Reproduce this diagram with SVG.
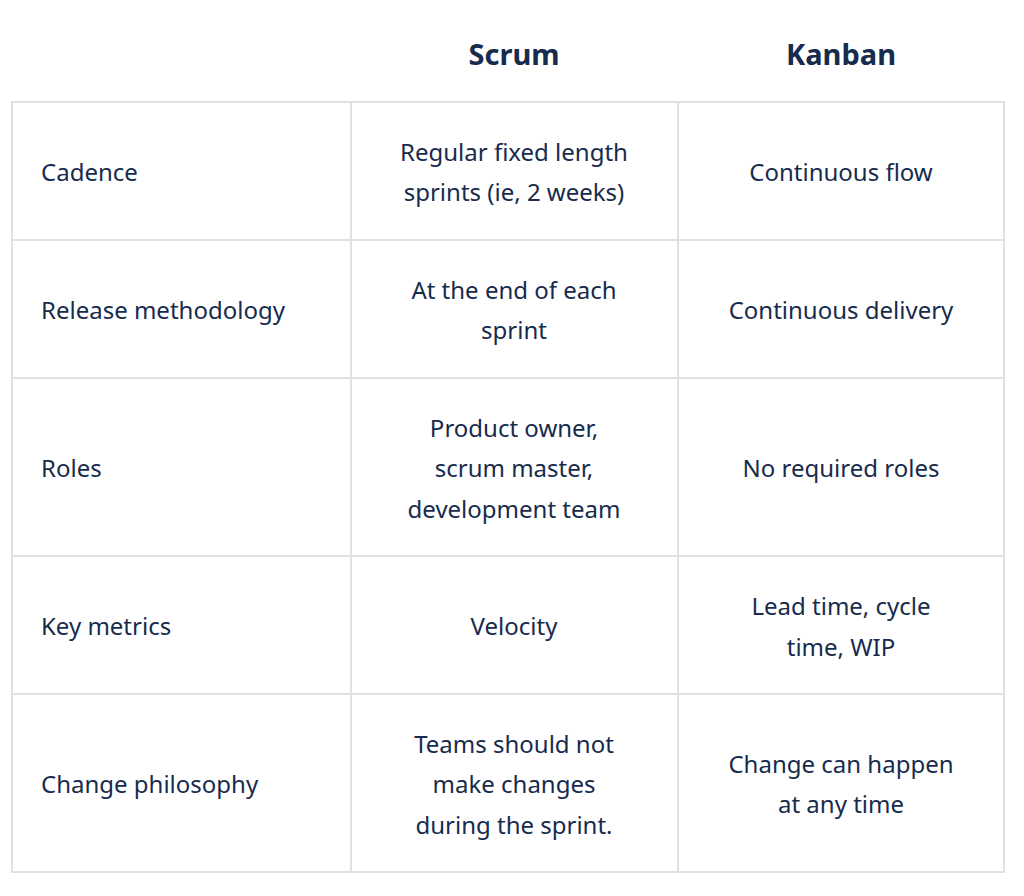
<svg xmlns="http://www.w3.org/2000/svg" width="1024" height="896" viewBox="0 0 1024 896">
<style>
text{font-family:"Noto Sans","Open Sans",sans-serif;fill:#172B4D;font-size:24px}
.h{font-size:29px;font-weight:bold;text-anchor:middle}
.c{text-anchor:middle}
.g{stroke:#DFE1E6;stroke-width:2;fill:none}
</style>
<rect width="1024" height="896" fill="#fff"/>
<g id="grid" class="g">
<rect x="12" y="102" width="992" height="770" class="g"/>
<line x1="351" y1="102" x2="351" y2="872"/>
<line x1="678" y1="102" x2="678" y2="872"/>
<line x1="12" y1="240" x2="1004" y2="240"/>
<line x1="12" y1="378" x2="1004" y2="378"/>
<line x1="12" y1="556" x2="1004" y2="556"/>
<line x1="12" y1="694" x2="1004" y2="694"/>
</g>
<g id="header">
<text class="h" x="514" y="65">Scrum</text>
<text class="h" x="841" y="65">Kanban</text>
</g>
<g id="row1">
<text x="41" y="181">Cadence</text>
<text class="c" x="514" y="161">Regular fixed length</text>
<text class="c" x="514" y="201">sprints (ie, 2 weeks)</text>
<text class="c" x="841" y="181">Continuous flow</text>
</g>
<g id="row2">
<text x="41" y="319">Release methodology</text>
<text class="c" x="514" y="299">At the end of each</text>
<text class="c" x="514" y="339">sprint</text>
<text class="c" x="841" y="319">Continuous delivery</text>
</g>
<g id="row3">
<text x="41" y="477">Roles</text>
<text class="c" x="514" y="437">Product owner,</text>
<text class="c" x="514" y="477">scrum master,</text>
<text class="c" x="514" y="518">development team</text>
<text class="c" x="841" y="477">No required roles</text>
</g>
<g id="row4">
<text x="41" y="635">Key metrics</text>
<text class="c" x="514" y="635">Velocity</text>
<text class="c" x="841" y="615">Lead time, cycle</text>
<text class="c" x="841" y="656">time, WIP</text>
</g>
<g id="row5">
<text x="41" y="793">Change philosophy</text>
<text class="c" x="514" y="753">Teams should not</text>
<text class="c" x="514" y="793">make changes</text>
<text class="c" x="514" y="834">during the sprint.</text>
<text class="c" x="841" y="773">Change can happen</text>
<text class="c" x="841" y="813">at any time</text>
</g>
</svg>
